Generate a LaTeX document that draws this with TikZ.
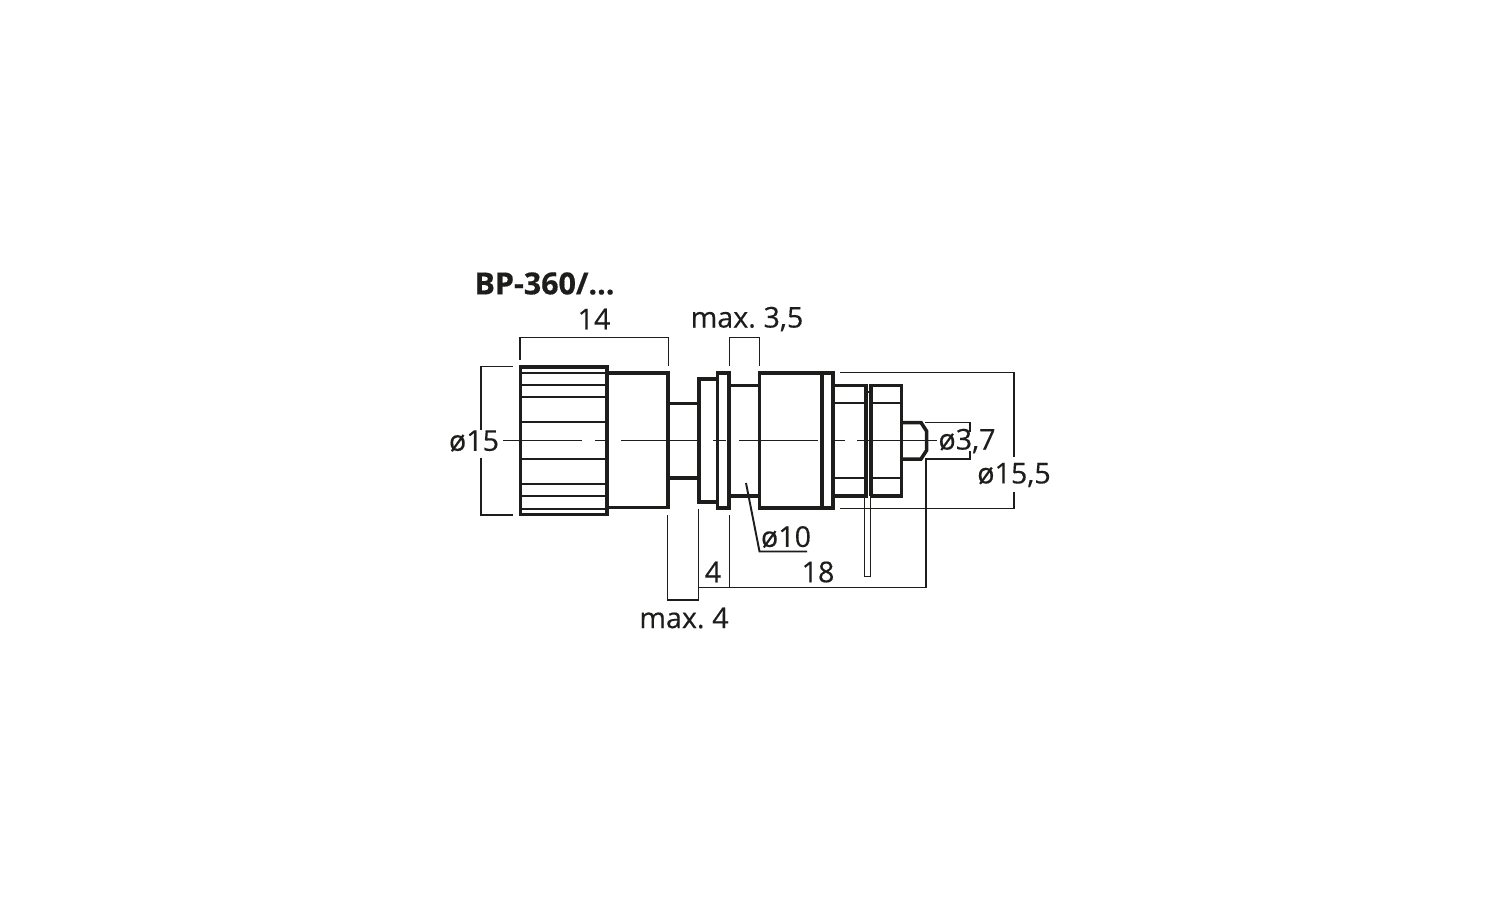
\documentclass[tikz,border=0pt]{standalone}
\usepackage{fontspec}
\setmainfont{Open Sans}
\newfontfamily\dimfont[FakeBold=0.35,WordSpace=0.7]{Open Sans}
\newfontfamily\titlefont[FakeBold=0.5]{Open Sans Bold}
\definecolor{ink}{HTML}{1D1D1B}
\tikzset{
	thickline/.style={draw=ink,line width=2pt,miter limit=4},
	thinline/.style={draw=ink,line width=1.1pt},
	ribline/.style={draw=ink,line width=1.15pt},
	dimtext/.style={text=ink,font=\dimfont\fontsize{16.3}{18}\selectfont,inner sep=0pt},
}
\begin{document}
\begin{tikzpicture}[x=.02cm,y=-.02cm]
\useasboundingbox (0,0) rectangle (1500,900);

% centre line
\draw[thinline] (503,440.5) -- (581.5,440.5);
\draw[thinline] (595,440.5) -- (605,440.5);
\draw[thinline] (621,440.5) -- (701,440.5);
\draw[thinline] (713,440.5) -- (726,440.5);
\draw[thinline] (739,440.5) -- (818,440.5);
\draw[thinline] (832,440.5) -- (845,440.5);
\draw[thinline] (857,440.5) -- (937,440.5);

% knob
\foreach \y in {373,385,397,422,459,484,496,509} {
	\draw[ribline] (520,\y) -- (607,\y);
	}
\draw[thickline] (520.5,367) rectangle (607,514.5);
\draw[thickline] (607,373) -- (668,373) -- (668,507.5) -- (607,507.5);

% neck and flanges
\draw[thickline] (668,403.5) -- (698,403.5);
\draw[thickline] (668,478) -- (698,478);
\draw[thickline] (717,379) -- (699,379) -- (699,502) -- (717,502);
\draw[thickline] (717.5,373) rectangle (729,508);
\draw[thickline] (729,385.5) -- (759,385.5);
\draw[thickline] (729,496) -- (759,496);

% body
\draw[thickline] (759.5,373) rectangle (833,508);
\draw[thickline] (822,373) -- (822,508);

% nuts and plate
\draw[thickline] (834,385.5) -- (866,385.5) -- (866,496) -- (834,496);
\draw[thickline] (871,496) -- (871,385.5) -- (901.5,385.5) -- (901.5,496) -- (871,496);
\foreach \y in {403,478} {
	\draw[ribline] (834,\y) -- (866,\y);
	\draw[ribline] (871,\y) -- (901,\y);
	}
\draw[thinline] (864.5,392) -- (864.5,576.5) -- (870.5,576.5) -- (870.5,392) -- cycle;

% pin
\draw[thickline] (901.5,422.5) -- (921,422.5) -- (926.5,431) -- (926.5,450.5) -- (921,459) -- (901.5,459);

% dimension 14 and max. 3,5
\draw[thinline] (520,360) -- (520,337.5) -- (668.5,337.5) -- (668.5,366);
\draw[thinline] (729.5,366) -- (729.5,337.5) -- (759.5,337.5) -- (759.5,366);

% dimension o15
\draw[thinline] (513,366.5) -- (481,366.5) -- (481,430);
\draw[thinline] (513,515) -- (481,515) -- (481,458);

% dimension o15,5 and o3,7
\draw[thinline] (840,372.5) -- (1014,372.5) -- (1014,457);
\draw[thinline] (840,508.5) -- (1014,508.5) -- (1014,492);
\draw[thinline] (925,422.5) -- (970,422.5) -- (970,432);
\draw[thinline] (925,459) -- (970,459) -- (970,451);

% dimension 18, 4 and max. 4
\draw[thinline] (926,459) -- (926,587.5) -- (698.5,587.5);
\draw[thinline] (698.5,509) -- (698.5,600) -- (667.5,600) -- (667.5,515);
\draw[thinline] (729.5,515) -- (729.5,587.5);

% leader o10
\draw[thinline] (746,483) -- (759.5,551.5) -- (807,551.5);

% labels
\node (title) at (544.5,283.5) [text=ink,inner sep=0pt,font=\titlefont\fontsize{17.3}{18}\selectfont] {BP-360/...};
\node (len) at (594,319) [dimtext] {14};
\node (panel) at (747,319) [dimtext] {max. 3,5};
\node (dknob) at (474,441) [dimtext] {ø15};
\node (dpin) at (967,441) [dimtext] {ø3,7};
\node (dbody) at (1014,475) [dimtext] {ø15,5};
\node (dshaft) at (786,537) [dimtext] {ø10};
\node (lpin) at (818,572) [dimtext] {18};
\node (lgap) at (713,572) [dimtext] {4};
\node (lmax) at (684,618) [dimtext] {max. 4};
\end{tikzpicture}
\end{document}
